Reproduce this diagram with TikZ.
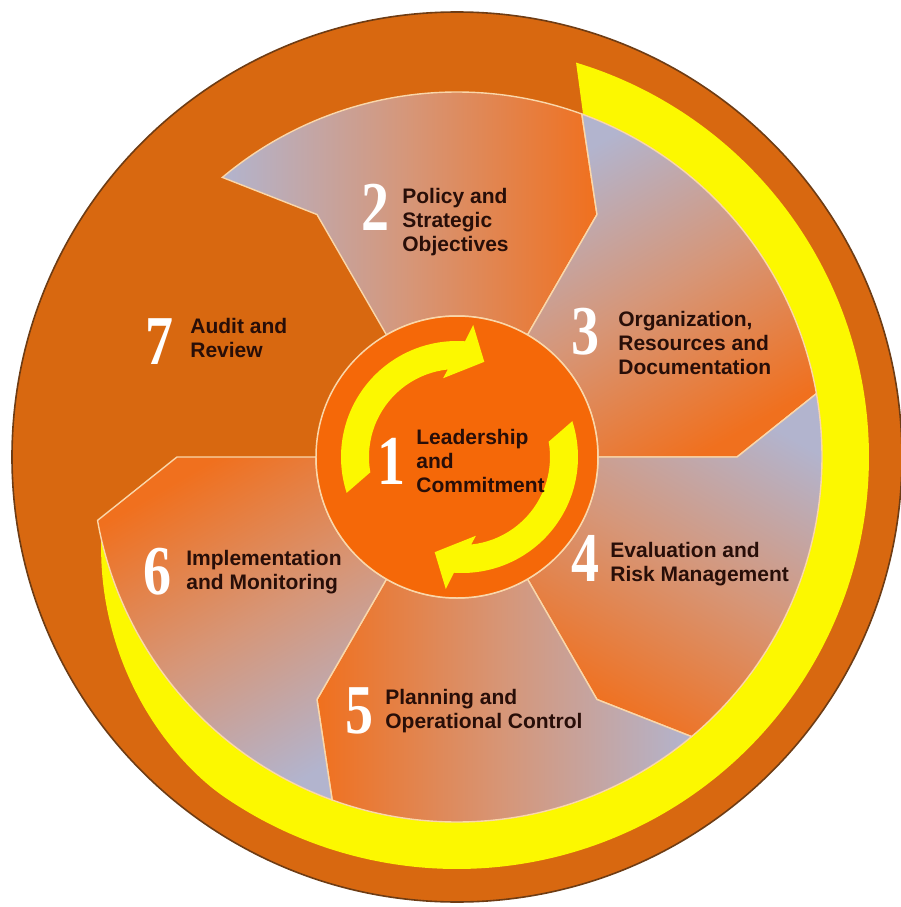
\documentclass[tikz,border=0pt]{standalone}
\usepackage{fontspec}
\setmainfont{Liberation Sans}
\newfontfamily\numfont{Liberation Serif}
\definecolor{bgorange}{RGB}{216,104,16}
\definecolor{borderc}{RGB}{110,60,20}
\definecolor{yellowc}{RGB}{252,248,0}
\definecolor{innerorange}{RGB}{245,104,8}
\definecolor{porange}{RGB}{240,112,30}
\definecolor{pgrey}{RGB}{178,180,206}
\definecolor{pmid}{RGB}{214,150,120}
\definecolor{cream}{RGB}{250,215,170}
\definecolor{textc}{RGB}{40,14,8}
\begin{document}
\begin{tikzpicture}[x=0.5pt,y=0.5pt,
  lbl/.style={anchor=north west, inner sep=0pt, align=left, text=textc,
    font=\bfseries\fontsize{10.5}{12}\selectfont},
  num/.style={inner sep=0pt, text=white, xscale=0.8,
    font=\numfont\bfseries\fontsize{35}{35}\selectfont},
  petal/.style={top color=pgrey, bottom color=porange, middle color=pmid,
    draw=cream, line width=0.7pt},
  band/.style={fill=yellowc},
]
\useasboundingbox (-457,-450) rectangle (444,457);
% outer disc
\fill[bgorange, draw=borderc, line width=0.8pt] (0,0) circle[radius=445];
% yellow spiral band
\fill[band] (190.6:360)
  -- plot[domain=190.6:433.2, samples=120, smooth]
     (\x:{412-52*max(0,(235-\x)/45)*sqrt(max(0,(235-\x)/45))})
  -- (429.7:364) arc[start angle=429.7, end angle=190.6, radius=364] -- cycle;
% petals 2..6
\foreach \a/\s in {60/90,0/30,-60/-30,-120/-90,180/-150}{
  \path[petal, shading angle=\s] (\a:141) -- (\a:280) -- ({\a+10}:365)
    arc[start angle=\a+10, end angle=\a+70, radius=365]
    -- ({\a+60}:280) -- ({\a+60}:141)
    arc[start angle=\a+60, end angle=\a, radius=141] -- cycle;
}
% inner circle
\fill[innerorange, draw=cream, line width=0.75pt] (0,0) circle[radius=141];
% circular arrows
\foreach \r/\dx in {0/0,180/5}{
  \fill[band, shift={(\dx,0)}, rotate=\r] (190:88) -- (198:116)
    arc[start angle=198, end angle=86, radius=116]
    -- (83:133) -- (74:99) -- (100:80) -- (96:88)
    arc[start angle=96, end angle=190, radius=88] -- cycle;
}
% numbers
\node[num] (n1) at (-65,-4) {1};
\node[num] (n2) at (-81,250) {2};
\node[num] (n3) at (129,125) {3};
\node[num] (n4) at (129,-101) {4};
\node[num] (n5) at (-97,-254) {5};
\node[num] (n6) at (-299,-115) {6};
\node[num] (n7) at (-297,115) {7};
% labels
\node[lbl] (t1) at (-41,28) {Leadership\\and\\Commitment};
\node[lbl] (t2) at (-55,269) {Policy and\\Strategic\\Objectives};
\node[lbl] (t3) at (161,146) {Organization,\\Resources and\\Documentation};
\node[lbl] (t4) at (153,-85) {Evaluation and\\Risk Management};
\node[lbl] (t5) at (-72,-232) {Planning and\\Operational Control};
\node[lbl] (t6) at (-271,-93) {Implementation\\and Monitoring};
\node[lbl] (t7) at (-267,139) {Audit and\\Review};
\end{tikzpicture}
\end{document}
